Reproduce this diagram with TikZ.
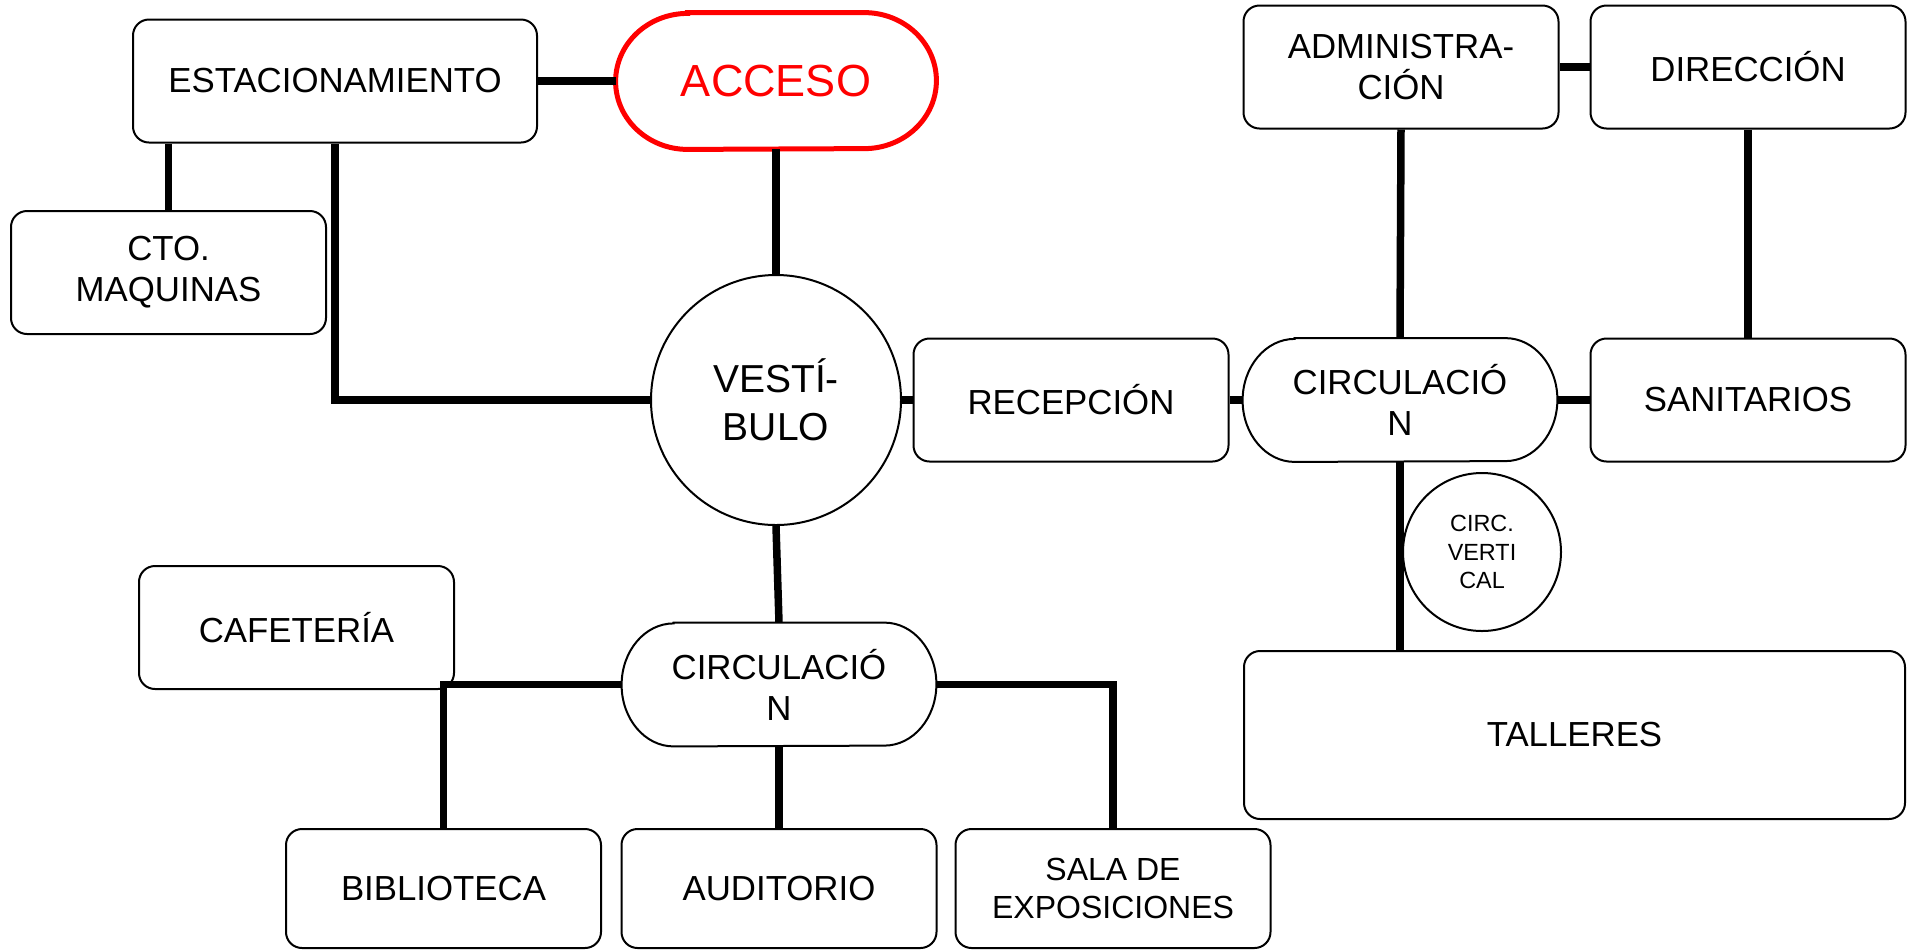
\documentclass[tikz,border=0pt]{standalone}
\usepackage{fontspec}
\setmainfont{Liberation Sans}
\definecolor{accred}{RGB}{255,0,0}
\newcommand\pillpath[4]{%
  \draw[#4] ([xshift=#2]#1.north west) -- ([xshift=-#2]#1.north east)
    arc[start angle=90, end angle=-90, x radius=#2, y radius=#3]
    -- ([xshift=#2]#1.south west)
    arc[start angle=270, end angle=90, x radius=#2, y radius=#3] -- cycle;}
\begin{document}
\begin{tikzpicture}[x=0.5pt,y=-0.5pt,
  every node/.style={align=center,inner sep=0pt,font=\fontsize{17.4}{20.5}\selectfont},
  room/.style={draw,line width=1pt,rounded corners=8pt,minimum width=157.5pt,minimum height=61.5pt},
  pillnode/.style={minimum width=157pt,minimum height=61.5pt},
  roundroom/.style={draw,line width=1pt,circle},
  link/.style={line width=3.75pt}]
\useasboundingbox (0,0) rectangle (1913,950);

% nodes
\node[room,minimum width=202pt] (estac) at (335,81) {ESTACIONAMIENTO};
\node[minimum width=160pt,minimum height=68pt,text=accred,font=\fontsize{22.5}{26}\selectfont] (acc) at (776,81) {ACCESO};
\pillpath{acc}{36pt}{34pt}{accred,line width=2.5pt}
\node[room] (cto) at (168.5,272.5) {CTO.\\MAQUINAS};
\node[roundroom,minimum size=125pt,font=\fontsize{19.5}{24}\selectfont] (vest) at (776,400) {VESTÍ-\\BULO};
\node[room] (rec) at (1071,400) {RECEPCIÓN};
\node[pillnode] (cir1) at (1400,400) {CIRCULACIÓ\\N};
\pillpath{cir1}{26pt}{30.75pt}{line width=1pt}
\node[room] (san) at (1748,400) {SANITARIOS};
\node[room] (adm) at (1401,67) {ADMINISTRA-\\CIÓN};
\node[room] (dir) at (1748,67) {DIRECCIÓN};
\node[roundroom,minimum size=79pt,font=\fontsize{11.7}{14.3}\selectfont] (cv) at (1482,552) {CIRC.\\VERTI\\CAL};
\node[room,minimum width=330.5pt,minimum height=84pt] (tal) at (1574.5,735) {TALLERES};
\node[room] (caf) at (296.5,627.5) {CAFETERÍA};
\node[pillnode] (cir2) at (779,684.5) {CIRCULACIÓ\\N};
\pillpath{cir2}{26pt}{30.75pt}{line width=1pt}
\node[room,minimum height=59.5pt] (bib) at (443.5,888.5) {BIBLIOTECA};
\node[room,minimum height=59.5pt] (aud) at (779,888.5) {AUDITORIO};
\node[room,minimum height=59.5pt,font=\fontsize{16}{19}\selectfont] (sal) at (1113,888.5) {SALA DE\\EXPOSICIONES};

% connectors
\draw[link] (estac.east) -- (acc.west);
\draw[link] (cto.north |- estac.south) -- (cto.north);
\draw[link] (estac.south) |- (vest.west);
\draw[link] (acc.south) -- (vest.north);
\draw[link] (vest.east) -- (rec.west);
\draw[link] (rec.east) -- (cir1.west);
\draw[link] (cir1.east) -- (san.west);
\draw[link] (adm.east) -- (dir.west);
\draw[link] (adm.south) -- (cir1.north);
\draw[link] (dir.south) -- (san.north);
\draw[link] (cir1.south) -- (cir1.south |- tal.north);
\draw[link] (vest.south) -- (cir2.north);
\draw[link] (cir2.west) -| (bib.north);
\draw[link] (cir2.south) -- (aud.north);
\draw[link] (cir2.east) -| (sal.north);
\end{tikzpicture}
\end{document}
